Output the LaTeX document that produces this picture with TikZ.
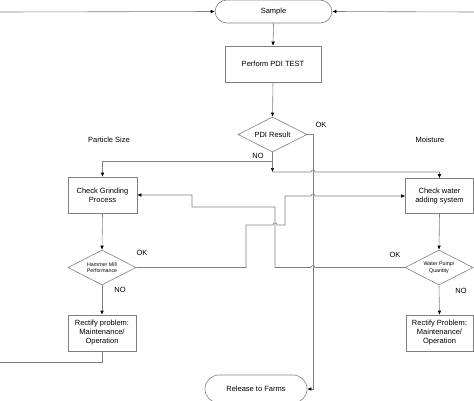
\documentclass[tikz,border=0pt]{standalone}
\usepackage{fontspec}
\setmainfont{Liberation Sans}
\usetikzlibrary{shapes.geometric,arrows.meta}
\tikzset{
  ln/.style={draw=black!50, line width=0.6pt},
  arr/.style={ln, -{Latex[length=4pt,width=3.6pt,color=black]}},
  procbox/.style={draw=black!50, line width=0.6pt, rectangle, inner sep=0pt, align=center, font=\fontsize{7.5}{9}\selectfont},
  decbox/.style={draw=black!50, line width=0.6pt, diamond, aspect=1.95, inner sep=0pt, minimum width=69pt, minimum height=35pt, align=center},
  termbox/.style={draw=black!50, line width=0.6pt, rectangle, rounded corners=12pt, inner sep=0pt, align=center, font=\fontsize{7.5}{9}\selectfont},
  lbl/.style={font=\fontsize{7.5}{9}\selectfont, inner sep=0pt},
}
\begin{document}
\begin{tikzpicture}[x=1pt,y=-1pt]
\useasboundingbox[fill=white] (0,0) rectangle (474,400);
% nodes
\node[termbox, minimum width=117pt, minimum height=23pt] (sample) at (273.5,11.5) {Sample};
\node[procbox, minimum width=96pt, minimum height=36pt] (pdt) at (273,64) {Perform PDI TEST};
\node[decbox, font=\fontsize{7.5}{9}\selectfont] (pdi) at (272.5,134.5) {PDI Result};
\node[procbox, minimum width=69pt, minimum height=36pt] (grind) at (102.5,195) {Check Grinding\\Process};
\node[decbox, minimum width=68pt, font=\fontsize{5.3}{6.5}\selectfont] (hammer) at (102,267.5) {Hammer Mill\\Performance};
\node[procbox, minimum width=68pt, minimum height=36pt] (rect1) at (102,333) {Rectify problem:\\Maintenance/\\Operation};
\node[procbox, minimum width=68pt, minimum height=35pt] (water) at (439.5,196) {Check water\\adding system};
\node[decbox, minimum width=68pt, font=\fontsize{5.3}{6.5}\selectfont] (pump) at (439,267.5) {Water Pump/\\Quantity};
\node[procbox, minimum width=67pt, minimum height=36pt] (rect2) at (439.5,333) {Rectify Problem:\\Maintenance/\\Operation};
\node[termbox, minimum width=102pt, minimum height=28pt, rounded corners=14pt] (release) at (256,389) {Release to Farms};
% labels
\node[lbl] (okpdi) at (321,125) {OK};
\node[lbl] (nopdi) at (258,156) {NO};
\node[lbl] (psize) at (109,140) {Particle Size};
\node[lbl] (moist) at (430,140) {Moisture};
\node[lbl] (okham) at (142,253) {OK};
\node[lbl] (noham) at (120,290) {NO};
\node[lbl] (okpump) at (395,255) {OK};
\node[lbl] (nopump) at (461,291) {NO};
% free ends and junctions
\coordinate (lin) at (0,12);
\coordinate (rin) at (474,12);
\coordinate (lout) at (0,362);
\coordinate (j1) at (272.5,161);
\coordinate (j2) at (272.5,172);
% connectors
\draw[arr] (lin) -- (sample.west);
\draw[arr] (rin) -- (sample.east);
\draw[arr] (sample.south) -- (pdt.north);
\draw[arr] (pdt.south) -- (pdi.north);
\draw[arr] (pdi.east) -- (313,134.5) -- (313,389) -- (release.east);
\draw[ln] (pdi.south) -- (j1);
\draw[arr] (j1) -| (grind.north);
\draw[arr] (j1) -- (j2);
\draw[arr] (j2) -- (311,172) arc[start angle=180,end angle=0,radius=2pt] -- (439.5,172) -- (water.north);
\draw[arr] (hammer.east) -- (246,267.5) -- (246,225) -- (273,225) arc[start angle=180,end angle=0,radius=2pt] -- (285,225) -- (285,196) -- (311,196) arc[start angle=180,end angle=0,radius=2pt] -- (water.west);
\draw[arr] (pump.west) -- (315,267.5) arc[start angle=0,end angle=180,radius=2pt] -- (275,267.5) -- (275,207) -- (192,207) -- (192,195) -- (grind.east);
\draw[arr] (grind.south) -- (hammer.north);
\draw[arr] (hammer.south) -- (rect1.north);
\draw[ln] (rect1.south) -- (102,362) -- (lout);
\draw[arr] (water.south) -- (pump.north);
\draw[arr] (pump.south) -- (rect2.north);
\end{tikzpicture}
\end{document}
